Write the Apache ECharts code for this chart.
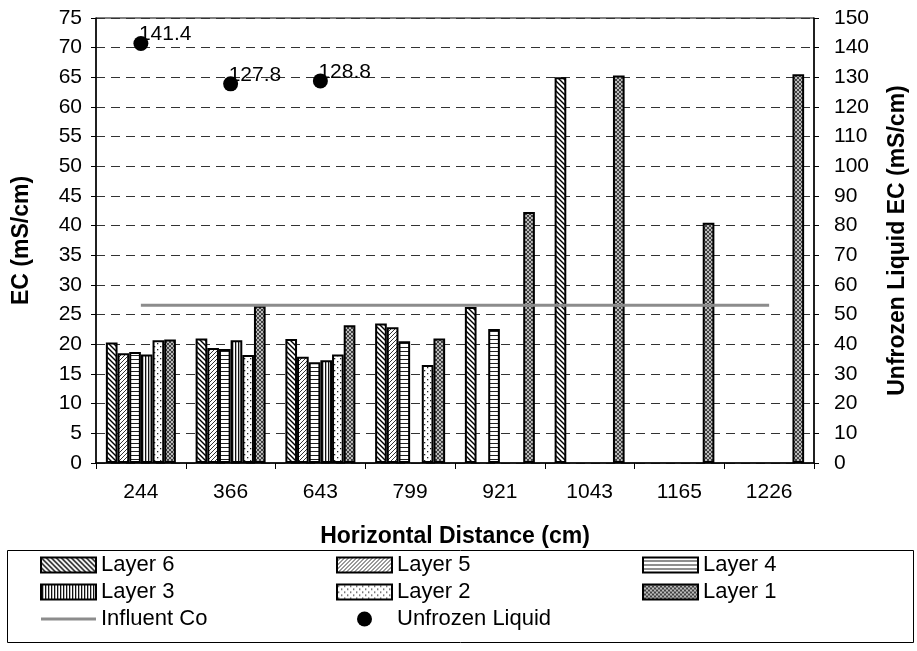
<!DOCTYPE html>
<html>
<head>
<meta charset="utf-8">
<script src="https://cdn.jsdelivr.net/npm/echarts@6/dist/echarts.min.js"></script>
<style>
  html, body { margin: 0; padding: 0; background: #fff; }
  #chart { width: 917px; height: 651px; }
</style>
</head>
<body>
<div id="chart"></div>
<script>
// Horizontal distance along the column (cm)
const categories = ['244', '366', '643', '799', '921', '1043', '1165', '1226'];

// EC per layer (mS/cm); null where no sample exists
const layer6 = [20.3, 21.0, 20.9, 23.5, 26.3, 65.0, null, null];
const layer5 = [18.5, 19.4, 17.9, 22.9, null, null, null, null];
const layer4 = [18.7, 19.2, 17.0, 20.5, 22.6, null, null, null];
const layer3 = [18.3, 20.7, 17.3, null, null, null, null, null];
const layer2 = [20.7, 18.2, 18.3, 16.5, null, null, null, null];
const layer1 = [20.8, 26.5, 23.2, 21.0, 42.3, 65.3, 40.5, 65.5];

// Influent concentration (mS/cm)
const influentCo = [26.6, 26.6, 26.6, 26.6, 26.6, 26.6, 26.6, 26.6];

// Unfrozen liquid EC (mS/cm), right axis
const unfrozenLiquid = [141.4, 127.8, 128.8, null, null, null, null, null];

// Axis ranges
const leftAxis = { min: 0, max: 75, interval: 5 };
const rightAxis = { min: 0, max: 150, interval: 10 };

const FONT = 'Liberation Sans';
const TICK_SIZE = 21;
const TITLE_SIZE = 23;

// Fill patterns for the bars, drawn on small tiles
function tile(size, draw) {
  const c = document.createElement('canvas');
  c.width = size; c.height = size;
  const ctx = c.getContext('2d');
  ctx.fillStyle = '#fff';
  ctx.fillRect(0, 0, size, size);
  draw(ctx, size);
  return { image: c, repeat: 'repeat' };
}
function diag(ctx, s, dir) {
  ctx.beginPath();
  if (dir > 0) { // "\"
    ctx.moveTo(-1, -1); ctx.lineTo(s + 1, s + 1);
    ctx.moveTo(s - 1, -1); ctx.lineTo(s + 1, 1);
    ctx.moveTo(-1, s - 1); ctx.lineTo(1, s + 1);
  } else { // "/"
    ctx.moveTo(-1, s + 1); ctx.lineTo(s + 1, -1);
    ctx.moveTo(-1, 1); ctx.lineTo(1, -1);
    ctx.moveTo(s - 1, s + 1); ctx.lineTo(s + 1, s - 1);
  }
  ctx.stroke();
}
const patLayer6 = tile(5, (ctx, s) => { ctx.strokeStyle = '#000'; ctx.lineWidth = 1.4; diag(ctx, s, 1); });
const patLayer5 = tile(4, (ctx, s) => { ctx.strokeStyle = '#333'; ctx.lineWidth = 1.0; diag(ctx, s, -1); });
const patLayer4 = tile(4, (ctx, s) => { ctx.fillStyle = '#222'; ctx.fillRect(0, 3, s, 1); });
const patLayer3 = tile(3, (ctx, s) => { ctx.fillStyle = '#111'; ctx.fillRect(1, 0, 1.3, s); });
const patLayer2 = tile(6, (ctx, s) => { ctx.fillStyle = '#222'; ctx.fillRect(1, 1, 1.3, 1.3); ctx.fillRect(4, 4, 1.3, 1.3); });
const patLayer1 = tile(4, (ctx, s) => {
  ctx.fillStyle = '#bbb'; ctx.fillRect(0, 0, s, s);
  ctx.strokeStyle = '#333'; ctx.lineWidth = 0.9; diag(ctx, s, 1); diag(ctx, s, -1);
});

function barSeries(name, data, pattern) {
  return {
    name: name,
    type: 'bar',
    data: data,
    barGap: '0%',
    barCategoryGap: '22%',
    itemStyle: { color: pattern, borderColor: '#000', borderWidth: 2 },
    emphasis: { disabled: true }
  };
}

const chart = echarts.init(document.getElementById('chart'), null, { renderer: 'canvas' });

const legendText = { fontFamily: FONT, fontSize: 22, color: '#000', lineHeight: 22 };
const legendCommon = {
  orient: 'vertical',
  itemWidth: 55,
  itemHeight: 15,
  itemGap: 5,
  padding: 0,
  textStyle: legendText,
  selectedMode: false
};

const titleStyle = { fontFamily: FONT, fontSize: TITLE_SIZE, fontWeight: 'bold', color: '#000' };
const tickStyle = { fontFamily: FONT, fontSize: TICK_SIZE, color: '#000' };

chart.setOption({
  animation: false,
  backgroundColor: '#fff',
  grid: { left: 96, right: 102, top: 18, bottom: 188, show: true, borderColor: '#000', borderWidth: 1 },
  xAxis: {
    type: 'category',
    data: categories,
    name: 'Horizontal Distance (cm)',
    nameLocation: 'middle',
    nameGap: 62,
    nameTextStyle: titleStyle,
    axisLine: { lineStyle: { color: '#000', width: 1.5 } },
    axisTick: { show: true, length: 6, lineStyle: { color: '#000' } },
    axisLabel: Object.assign({ margin: 19 }, tickStyle)
  },
  yAxis: [
    {
      type: 'value',
      min: leftAxis.min, max: leftAxis.max, interval: leftAxis.interval,
      name: 'EC (mS/cm)',
      nameLocation: 'middle',
      nameGap: 63,
      nameRotate: 90,
      nameTextStyle: titleStyle,
      axisLine: { show: true, lineStyle: { color: '#000', width: 1.5 } },
      axisTick: { show: true, length: 5, lineStyle: { color: '#000' } },
      axisLabel: Object.assign({ margin: 14 }, tickStyle),
      splitLine: { show: true, lineStyle: { color: '#333', type: [9, 6], width: 1 } }
    },
    {
      type: 'value',
      min: rightAxis.min, max: rightAxis.max, interval: rightAxis.interval,
      name: 'Unfrozen Liquid EC (mS/cm)',
      nameLocation: 'middle',
      nameGap: 72,
      nameRotate: 90,
      nameTextStyle: titleStyle,
      axisLine: { show: true, lineStyle: { color: '#000', width: 1.5 } },
      axisTick: { show: true, length: 5, lineStyle: { color: '#000' } },
      axisLabel: Object.assign({ margin: 20 }, tickStyle),
      splitLine: { show: false }
    }
  ],
  legend: [
    Object.assign({ left: 40, top: 554, data: [
      { name: 'Layer 6', icon: 'rect' }, { name: 'Layer 3', icon: 'rect' },
      { name: 'Influent Co', icon: 'path://M0,0 H55 V3 H0 Z' }
    ] }, legendCommon),
    Object.assign({ left: 336, top: 554, data: [
      { name: 'Layer 5', icon: 'rect' }, { name: 'Layer 2', icon: 'rect' },
      { name: 'Unfrozen Liquid', icon: 'circle' }
    ] }, legendCommon),
    Object.assign({ left: 642, top: 554, data: [
      { name: 'Layer 4', icon: 'rect' }, { name: 'Layer 1', icon: 'rect' }
    ] }, legendCommon)
  ],
  graphic: [
    { type: 'rect', left: 5, top: 548, shape: { width: 906, height: 92 }, style: { fill: 'none', stroke: '#000', lineWidth: 1 }, silent: true }
  ],
  series: [
    barSeries('Layer 6', layer6, patLayer6),
    barSeries('Layer 5', layer5, patLayer5),
    barSeries('Layer 4', layer4, patLayer4),
    barSeries('Layer 3', layer3, patLayer3),
    barSeries('Layer 2', layer2, patLayer2),
    barSeries('Layer 1', layer1, patLayer1),
    {
      name: 'Influent Co',
      type: 'line',
      data: influentCo,
      symbol: 'none',
      z: 5,
      lineStyle: { color: '#8c8c8c', width: 3 },
      itemStyle: { color: '#8c8c8c' },
      emphasis: { disabled: true }
    },
    {
      name: 'Unfrozen Liquid',
      type: 'scatter',
      yAxisIndex: 1,
      data: unfrozenLiquid,
      symbol: 'circle',
      symbolSize: 15,
      z: 6,
      itemStyle: { color: '#000', opacity: 1 },
      label: {
        show: true,
        position: 'top',
        align: 'left',
        distance: -9,
        offset: [-2, 0],
        fontFamily: FONT,
        fontSize: TICK_SIZE,
        color: '#000',
        opacity: 1,
        formatter: '{c}'
      },
      emphasis: { disabled: true }
    }
  ]
});
</script>
</body>
</html>
